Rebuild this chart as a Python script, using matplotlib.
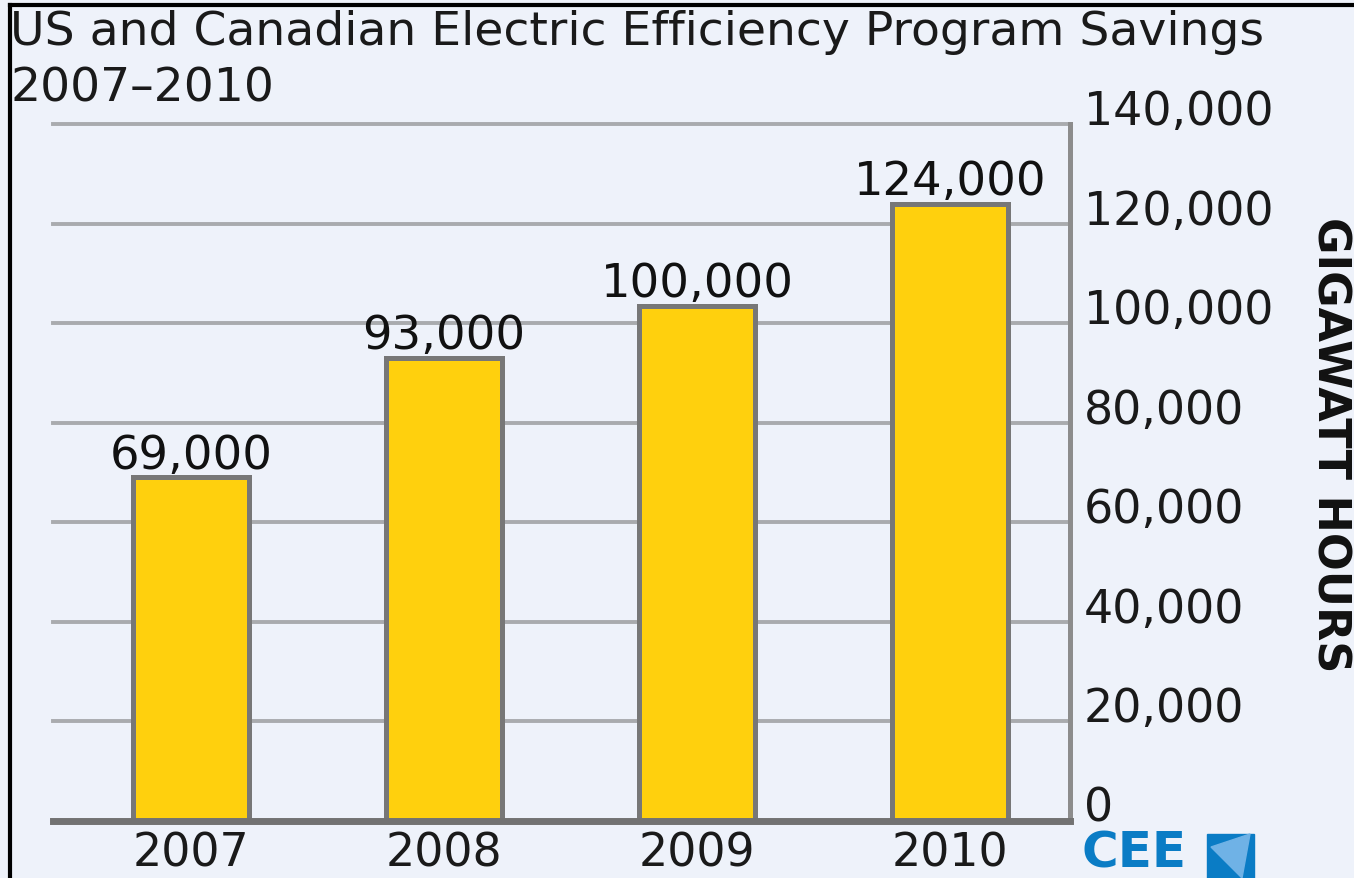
import matplotlib
matplotlib.use("Agg")
import matplotlib.pyplot as plt
import matplotlib.transforms as mtransforms
from matplotlib.lines import Line2D
from matplotlib.patches import Rectangle, Polygon

years = ["2007", "2008", "2009", "2010"]
bar_heights = [69000, 93000, 103500, 124000]
value_labels = ["69,000", "93,000", "100,000", "124,000"]
yticks = [0, 20000, 40000, 60000, 80000, 100000, 120000, 140000]
ytick_labels = ["0", "20,000", "40,000", "60,000", "80,000", "100,000", "120,000", "140,000"]
title_line1 = "US and Canadian Electric Efficiency Program Savings"
title_line2 = "2007\u20132010"
ylabel = "GIGAWATT HOURS"

BG = "#EEF2FA"
W, H = 1354, 879
fig = plt.figure(figsize=(W / 100, H / 100), dpi=100, facecolor=BG)
ax = fig.add_axes([53 / W, 1 - 822 / H, (1070 - 53) / W, (822 - 125) / H])
ax.set_facecolor(BG)

x = list(range(len(years)))
ax.bar(x, bar_heights, width=0.46, color="#FFD00D", edgecolor="#777777",
       linewidth=3.6, zorder=3)
ax.set_xlim(-0.545, 3.474)
ax.set_ylim(0, 140000)

for t in yticks[1:]:
    ax.axhline(t, color="#A9ABAE", linewidth=2.8, zorder=1, clip_on=False)

for s in ["left", "top"]:
    ax.spines[s].set_visible(False)
ax.spines["right"].set_color("#8C8C8C")
ax.spines["right"].set_linewidth(3.6)
ax.spines["bottom"].set_color("#727272")
ax.spines["bottom"].set_linewidth(5)
ax.spines["bottom"].set_zorder(4)

ax.set_xticks(x)
ax.set_xticklabels(years, fontsize=33, color="#1a1a1a")
ax.tick_params(axis="x", length=0, pad=7)
ax.set_yticks([])

trans = mtransforms.blended_transform_factory(ax.transAxes, ax.transData)
for t, lab in zip(yticks, ytick_labels):
    ax.text(1.0 + 14 / (1070 - 53), t, lab, transform=trans,
            ha="left", va="baseline", fontsize=33, color="#1a1a1a")

for xi, h, lab in zip(x, bar_heights, value_labels):
    ax.annotate(lab, (xi, h), xytext=(0, 7), textcoords="offset points",
                ha="center", va="baseline", fontsize=33.5, color="#111111",
                zorder=5, annotation_clip=False)

fig.text(10 / W, 1 - 45 / H, title_line1, ha="left", va="baseline", fontsize=34,
         color="#1a1a1a")
fig.text(10 / W, 1 - 101 / H, title_line2, ha="left", va="baseline", fontsize=34,
         color="#1a1a1a")

fig.text(1330 / W, 1 - 445 / H, ylabel, rotation=270, ha="center", va="center",
         fontsize=32, fontweight="bold", color="#111111")

# border on left and top
fig.add_artist(Line2D([9.5 / W, 9.5 / W], [0, 1 - 5.5 / H], color="black", linewidth=3, transform=fig.transFigure))
fig.add_artist(Line2D([9.5 / W, 1], [1 - 5.5 / H, 1 - 5.5 / H], color="black", linewidth=3, transform=fig.transFigure))

# CEE logo
fig.text(1082 / W, 1 / H, "CEE", ha="left", va="bottom", fontsize=36,
         fontweight="bold", color="#0A7CC5")
fig.add_artist(Rectangle((1207 / W, 0), 47 / W, (879 - 835) / H, transform=fig.transFigure,
                         color="#0A7CC5", zorder=5))
fig.add_artist(Polygon([(1211 / W, 1 - 848 / H), (1250 / W, 1 - 835 / H), (1242 / W, 1 - 879 / H)],
                       closed=True, transform=fig.transFigure, color="#6FB2E6", zorder=6))

fig.savefig("out.png", dpi=100, facecolor=BG)
